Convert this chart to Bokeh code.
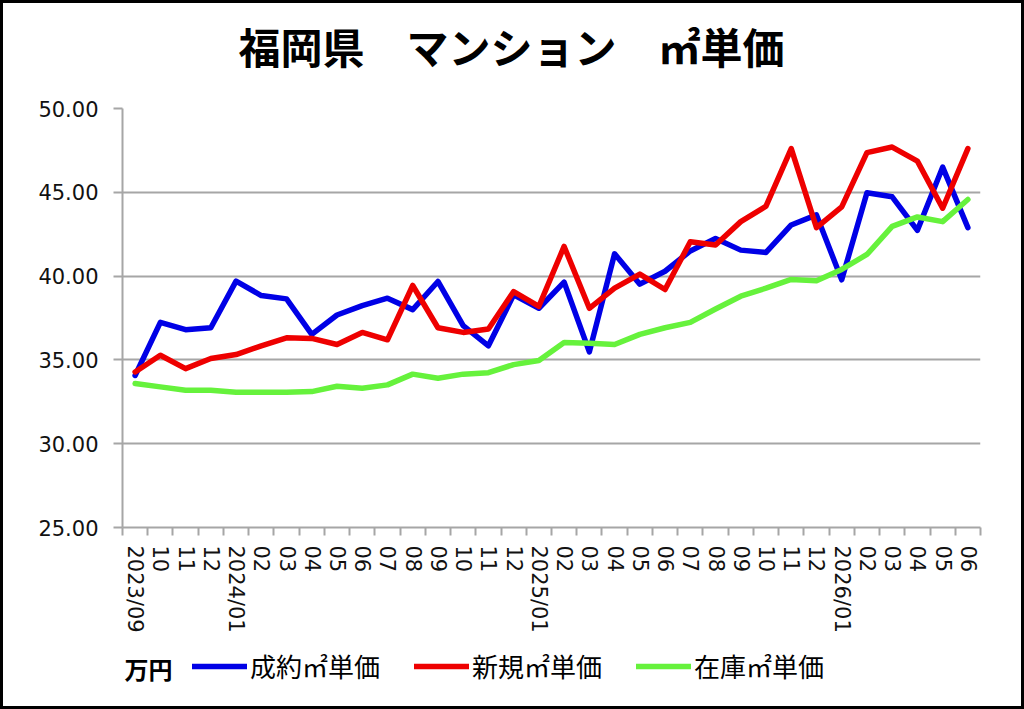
from bokeh.plotting import figure
from bokeh.models import (Range1d, FixedTicker, Legend, LegendItem, Label, PrintfTickFormatter,
                          InlineStyleSheet, Column)
from bokeh.embed import file_html
from bokeh.resources import INLINE

# ---- data -------------------------------------------------------------
months = ["2023/09", "10", "11", "12",
          "2024/01", "02", "03", "04", "05", "06", "07", "08", "09", "10", "11", "12",
          "2025/01", "02", "03", "04", "05", "06", "07", "08", "09", "10", "11", "12",
          "2026/01", "02", "03", "04", "05", "06"]

contract = [34.07, 37.24, 36.80, 36.92, 39.70, 38.84, 38.64, 36.52, 37.68, 38.24,
            38.68, 38.00, 39.68, 37.04, 35.84, 38.88, 38.08, 39.64, 35.48, 41.33,
            39.52, 40.29, 41.50, 42.25, 41.55, 41.41, 43.05, 43.65, 39.78, 44.97,
            44.73, 42.73, 46.50, 42.89]

new_listing = [34.28, 35.28, 34.48, 35.08, 35.32, 35.84, 36.32, 36.28, 35.92, 36.64,
               36.20, 39.44, 36.92, 36.64, 36.84, 39.08, 38.20, 41.77, 38.08, 39.28,
               40.12, 39.20, 42.05, 41.85, 43.25, 44.17, 47.61, 42.89, 44.13, 47.37,
               47.70, 46.86, 44.05, 47.61]

stock = [33.59, 33.39, 33.19, 33.19, 33.07, 33.07, 33.07, 33.11, 33.43, 33.31,
         33.51, 34.15, 33.91, 34.15, 34.24, 34.72, 34.96, 36.04, 36.00, 35.92,
         36.52, 36.92, 37.24, 38.04, 38.80, 39.28, 39.80, 39.72, 40.40, 41.29,
         42.97, 43.53, 43.25, 44.57]

series_names = ["成約㎡単価", "新規㎡単価", "在庫㎡単価"]
y_ticks = [25, 30, 35, 40, 45, 50]
title_text = "福岡県　マンション　㎡単価"
unit_text = "万円"

# ---- settings ---------------------------------------------------------
n = len(months)
xs = [i + 0.5 for i in range(n)]
GRID = "#a6a6a6"
JP = "Noto Sans CJK JP"
W = 1018                     # inner width (3px black frame each side)
FRAME_L, FRAME_R = 122, 980  # page x of the plot area
colors = ["#0000e6", "#ee0000", "#66f23c"]
WHITE_HOST = InlineStyleSheet(css=":host { background-color: white; }")


def blank(height):
    # text-only strip; its frame is aligned with the chart's plot area,
    # so x data units equal page pixels
    f = figure(width=W, height=height, output_backend="svg", toolbar_location=None,
               x_range=Range1d(FRAME_L, FRAME_R), y_range=Range1d(0, height),
               x_axis_location=None, y_axis_location=None, min_border=0)
    f.grid.visible = False
    f.outline_line_color = None
    f.background_fill_color = "white"
    f.border_fill_color = "white"
    f.stylesheets = [WHITE_HOST]
    return f


# ---- header (title) ---------------------------------------------------
head = blank(87)
head.add_layout(Label(x=238, y=45, text=title_text, text_font=JP, text_font_size="42px",
                      text_font_style="bold", text_color="black", text_baseline="middle"))

# ---- main chart -------------------------------------------------------
p = figure(width=W, height=555, output_backend="svg", toolbar_location=None,
           x_range=Range1d(0, n), y_range=Range1d(25, 50),
           min_border_left=FRAME_L - 3, min_border_right=W + 3 - FRAME_R,
           min_border_top=18, min_border_bottom=118)
p.background_fill_color = "white"
p.border_fill_color = "white"
p.outline_line_color = None
p.stylesheets = [WHITE_HOST]

for vals, c in zip([contract, new_listing, stock], colors):
    p.line(xs, vals, line_color=c, line_width=5.5, line_join="round", line_cap="round")

p.yaxis.ticker = FixedTicker(ticks=y_ticks)
p.yaxis.formatter = PrintfTickFormatter(format="%.2f")
p.yaxis.major_label_text_font = "DejaVu Sans"
p.yaxis.major_label_text_font_size = "21px"
p.yaxis.major_label_text_color = "#111111"
p.yaxis.major_tick_out = 9
p.yaxis.major_tick_in = 0
p.yaxis.minor_tick_line_color = None
p.yaxis.major_tick_line_color = GRID
p.yaxis.major_tick_line_width = 2
p.yaxis.axis_line_color = GRID
p.yaxis.axis_line_width = 2
p.yaxis.major_label_standoff = 15

p.xaxis.ticker = FixedTicker(ticks=xs, minor_ticks=list(range(0, n + 1)))
p.xaxis.major_label_overrides = {x: m for x, m in zip(xs, months)}
p.xaxis.major_label_orientation = "vertical"
p.xaxis.major_label_text_font = "DejaVu Sans"
p.xaxis.major_label_text_font_size = "21px"
p.xaxis.major_label_text_color = "#111111"
p.xaxis.major_tick_line_color = None
p.xaxis.minor_tick_line_color = GRID
p.xaxis.minor_tick_line_width = 2
p.xaxis.minor_tick_out = 8
p.xaxis.minor_tick_in = 0
p.xaxis.axis_line_color = GRID
p.xaxis.axis_line_width = 2
p.xaxis.major_label_standoff = 10

p.xgrid.visible = False
p.ygrid.grid_line_color = GRID
p.ygrid.grid_line_width = 2

# ---- legend row -------------------------------------------------------
leg = blank(61)
items = []
for nm, c in zip(series_names, colors):
    # off-screen proxy renderer that only supplies the legend swatch style
    r = leg.line(x=[-9000, -8000], y=[-9000, -9000], line_color=c, line_width=5.5, line_cap="round")
    items.append(LegendItem(label=nm, renderers=[r]))
leg.add_layout(Legend(items=items, orientation="horizontal", location=(70, 22),
                      label_text_font=JP, label_text_font_size="26px", label_text_color="black",
                      glyph_width=55, label_standoff=3, spacing=34, padding=5, margin=0,
                      border_line_color=None, background_fill_alpha=0))
leg.add_layout(Label(x=124, y=38, text=unit_text, text_font=JP, text_font_size="24px",
                     text_font_style="bold", text_baseline="middle", text_color="black"))

page = Column(children=[head, p, leg], spacing=0,
              stylesheets=[InlineStyleSheet(css=":host { padding: 3px; background-color: black; }")])

open("out.html", "w").write(file_html(page, INLINE))
